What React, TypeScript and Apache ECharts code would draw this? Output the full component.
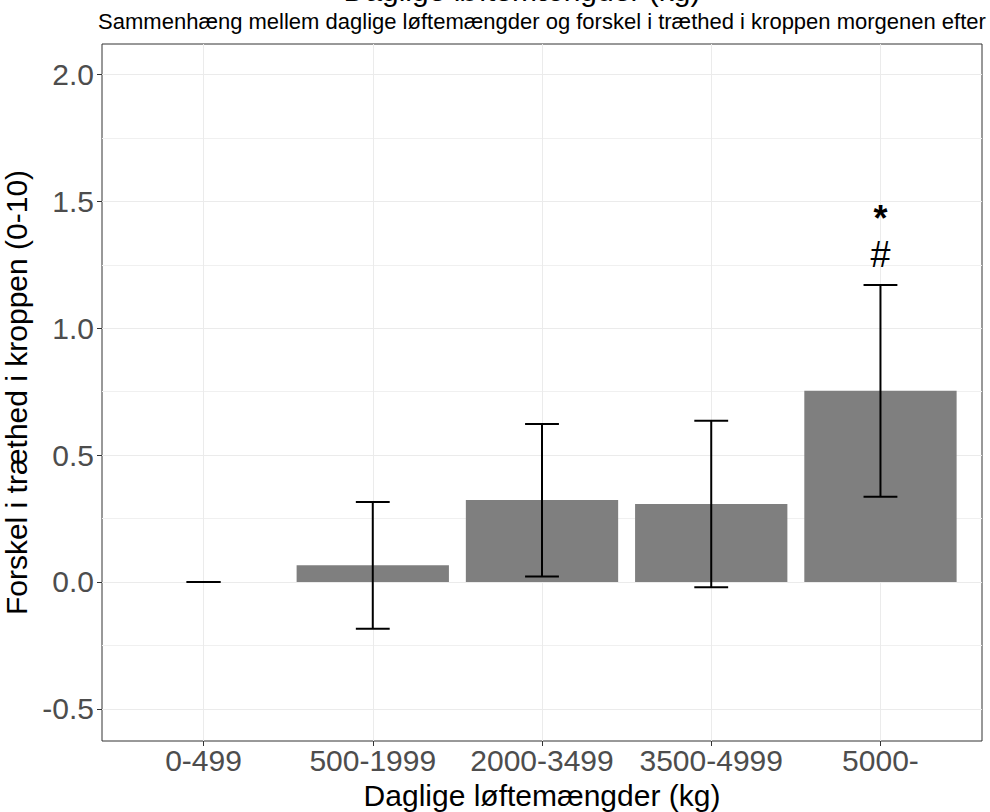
import React, { useEffect, useRef } from "react";
import * as echarts from "echarts";

// Daily lifting load groups and the mean change in body fatigue (0-10 scale)
const categories = ["0-499", "500-1999", "2000-3499", "3500-4999", "5000-"];
const means = [0, 0.066, 0.323, 0.307, 0.754];
const lower = [0, -0.184, 0.022, -0.021, 0.336];
const upper = [0, 0.315, 0.623, 0.636, 1.171];

// Significance markers drawn above the bars: category index, value, symbol
const markerCats = [4, 4];
const markerValues = [1.432, 1.29];
const markerTexts = ["*", "#"];

const majorTicks = [-0.5, 0, 0.5, 1.0, 1.5, 2.0];
const minorTicks = [-0.25, 0.25, 0.75, 1.25, 1.75];

const FONT = "'Liberation Sans', Arial, Helvetica, sans-serif";

export default function App() {
  const ref = useRef<HTMLDivElement>(null);

  useEffect(() => {
    document.body.style.margin = "0";
    if (!ref.current) return;
    const chart = echarts.init(ref.current, null, { renderer: "svg" });

    const barData = categories.map((_, i) => [i, means[i]]);
    const errData = categories.map((_, i) => [i, lower[i], upper[i]]);
    const markerData = markerCats.map((c, i) => [c, markerValues[i], i]);

    const option: any = {
      animation: false,
      backgroundColor: "#ffffff",
      textStyle: { fontFamily: FONT },
      grid: {
        left: 102,
        top: 44,
        right: 8,
        bottom: 71,
        outerBoundsMode: "none",
        containLabel: false,
        show: true,
        borderColor: "#333333",
        borderWidth: 1,
        backgroundColor: "#ffffff",
      },
      graphic: [
        {
          type: "text",
          x: 522,
          y: -10,
          style: {
            text: "Daglige løftemængder (kg)",
            font: `30px ${FONT}`,
            fill: "#000000",
            textAlign: "center",
            textVerticalAlign: "middle",
          },
        },
        {
          type: "text",
          x: 542,
          y: 21,
          style: {
            text: "Sammenhæng mellem daglige løftemængder og forskel i træthed i kroppen morgenen efter",
            font: `22px ${FONT}`,
            fill: "#000000",
            textAlign: "center",
            textVerticalAlign: "middle",
          },
        },
      ],
      xAxis: {
        type: "value",
        min: -0.6,
        max: 4.6,
        name: "Daglige løftemængder (kg)",
        nameLocation: "middle",
        nameGap: 39,
        nameTextStyle: { fontSize: 30, color: "#000000", fontFamily: FONT },
        axisLine: { show: false, onZero: false },
        axisTick: {
          show: true,
          length: 5,
          customValues: [0, 1, 2, 3, 4],
          lineStyle: { color: "#333333", width: 1 },
        },
        axisLabel: {
          customValues: [0, 1, 2, 3, 4],
          formatter: (v: number) => categories[Math.round(v)] ?? "",
          fontSize: 30,
          color: "#4d4d4d",
          margin: 4,
          fontFamily: FONT,
        },
        splitLine: { show: true, lineStyle: { color: "#ebebeb", width: 1 } },
      },
      yAxis: [
        {
          type: "value",
          min: -0.627,
          max: 2.121,
          name: "Forskel i træthed i kroppen (0-10)",
          nameLocation: "middle",
          nameGap: 57,
          nameRotate: 90,
          nameTextStyle: { fontSize: 30, color: "#000000", fontFamily: FONT },
          axisLine: { show: false, onZero: false },
          axisTick: {
            show: true,
            length: 5,
            customValues: majorTicks,
            lineStyle: { color: "#333333", width: 1 },
          },
          axisLabel: {
            customValues: majorTicks,
            formatter: (v: number) => v.toFixed(1),
            fontSize: 30,
            color: "#4d4d4d",
            margin: 8,
            fontFamily: FONT,
          },
          splitLine: { show: true, lineStyle: { color: "#ebebeb", width: 1 } },
        },
        {
          type: "value",
          min: -0.627,
          max: 2.121,
          position: "left",
          axisLine: { show: false, onZero: false },
          axisTick: { show: false, customValues: minorTicks },
          axisLabel: { show: false, customValues: minorTicks },
          splitLine: { show: true, lineStyle: { color: "#f0f0f0", width: 1 } },
        },
      ],
      series: [
        {
          type: "custom",
          name: "mean",
          yAxisIndex: 0,
          data: barData,
          z: 3,
          renderItem: (_params: any, api: any) => {
            const x = api.value(0);
            const y = api.value(1);
            const a = api.coord([x - 0.45, 0]);
            const b = api.coord([x + 0.45, y]);
            const top = Math.min(a[1], b[1]);
            const h = Math.abs(a[1] - b[1]);
            if (h < 0.01) return null;
            return {
              type: "rect",
              shape: { x: a[0], y: top, width: b[0] - a[0], height: h },
              style: { fill: "#7f7f7f" },
            };
          },
        },
        {
          type: "custom",
          name: "ci",
          yAxisIndex: 0,
          data: errData,
          z: 4,
          renderItem: (_params: any, api: any) => {
            const x = api.value(0);
            const lo = api.value(1);
            const hi = api.value(2);
            const pLo = api.coord([x, lo]);
            const pHi = api.coord([x, hi]);
            const capL = api.coord([x - 0.1, lo]);
            const capR = api.coord([x + 0.1, lo]);
            const capL2 = api.coord([x - 0.1, hi]);
            const capR2 = api.coord([x + 0.1, hi]);
            const st = { stroke: "#000000", lineWidth: 2 };
            return {
              type: "group",
              children: [
                {
                  type: "line",
                  shape: { x1: pLo[0], y1: pLo[1], x2: pHi[0], y2: pHi[1] },
                  style: st,
                },
                {
                  type: "line",
                  shape: { x1: capL[0], y1: capL[1], x2: capR[0], y2: capR[1] },
                  style: st,
                },
                {
                  type: "line",
                  shape: { x1: capL2[0], y1: capL2[1], x2: capR2[0], y2: capR2[1] },
                  style: st,
                },
              ],
            };
          },
        },
        {
          type: "custom",
          name: "markers",
          yAxisIndex: 0,
          data: markerData,
          z: 5,
          renderItem: (_params: any, api: any) => {
            const p = api.coord([api.value(0), api.value(1)]);
            const idx = api.value(2);
            const txt = markerTexts[idx];
            return {
              type: "text",
              x: p[0],
              y: p[1],
              style: {
                text: txt,
                font: `${txt === "*" ? "bold " : ""}36px ${FONT}`,
                lineHeight: 26,
                fill: "#000000",
                textAlign: "center",
                textVerticalAlign: "middle",
              },
            };
          },
        },
      ],
    };

    chart.setOption(option);
    return () => chart.dispose();
  }, []);

  return <div ref={ref} style={{ width: 990, height: 812 }} />;
}
